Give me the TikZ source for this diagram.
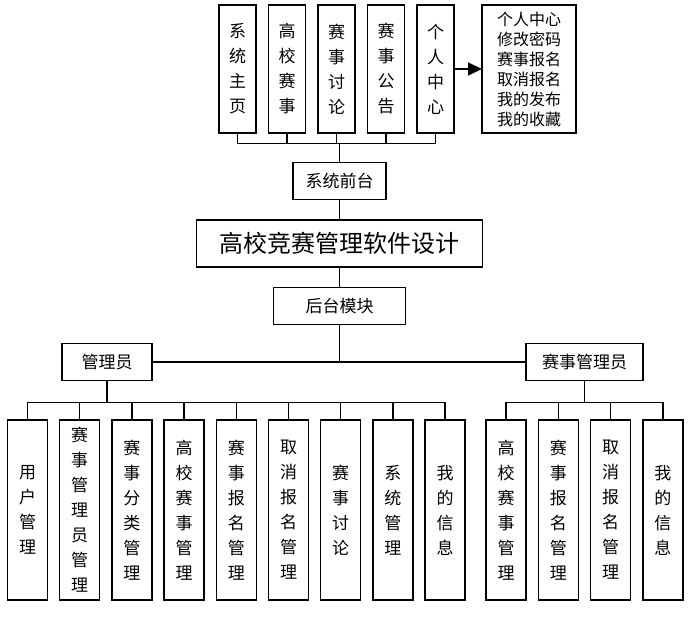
\documentclass[tikz,border=0pt]{standalone}
\usepackage{fontspec}
\setmainfont{Noto Sans CJK SC}
\usetikzlibrary{positioning, arrows.meta}

\begin{document}
\begin{tikzpicture}[
  x=1pt, y=-1pt,
  >={Triangle[length=14pt, width=13pt]},
  box/.style={draw, line width=1.5pt, inner sep=0pt, outer sep=0pt, align=center, fill=white},
  topV/.style={box, minimum width=37pt, minimum height=128pt, font=\fontsize{17}{25}\selectfont},
  listB/.style={box, minimum width=94pt, minimum height=128pt, font=\fontsize{16}{20}\selectfont},
  midB/.style={box, minimum height=37pt, font=\fontsize{17}{20}\selectfont},
  titleB/.style={box, minimum width=286pt, minimum height=47pt, font=\fontsize{24}{28}\selectfont},
  botV/.style={box, minimum width=40pt, minimum height=180pt, font=\fontsize{17}{25}\selectfont},
  link/.style={line width=1.5pt}
]
\useasboundingbox (0,0) rectangle (693,618);

\node[topV] (v1) at (237.5,69) {系\\统\\主\\页};
\node[topV, right=12.5pt of v1] (v2) {高\\校\\赛\\事};
\node[topV, right=12.5pt of v2] (v3) {赛\\事\\讨\\论};
\node[topV, right=12.5pt of v3] (v4) {赛\\事\\公\\告};
\node[topV, right=12.5pt of v4] (v5) {个\\人\\中\\心};
\node[listB, right=28pt of v5] (lst) {个人中心\\修改密码\\赛事报名\\取消报名\\我的发布\\我的收藏};

\node[midB, minimum width=93pt] (qt) at (339.5,181) {系统前台};
\node[titleB] (title) at (339.5,243.5) {高校竞赛管理软件设计};
\node[midB, minimum width=132pt] (hb) at (339.5,306) {后台模块};
\node[midB, minimum width=90pt] (adm) at (107,362) {管理员};
\node[midB, minimum width=117pt] (sadm) at (584.5,362) {赛事管理员};

\node[botV] (a1) at (27.5,510) {用\\户\\管\\理};
\node[botV, right=12.2pt of a1] (a2) {赛\\事\\管\\理\\员\\管\\理};
\node[botV, right=12.2pt of a2] (a3) {赛\\事\\分\\类\\管\\理};
\node[botV, right=12.2pt of a3] (a4) {高\\校\\赛\\事\\管\\理};
\node[botV, right=12.2pt of a4] (a5) {赛\\事\\报\\名\\管\\理};
\node[botV, right=12.2pt of a5] (a6) {取\\消\\报\\名\\管\\理};
\node[botV, right=12.2pt of a6] (a7) {赛\\事\\讨\\论};
\node[botV, right=12.2pt of a7] (a8) {系\\统\\管\\理};
\node[botV, right=12.2pt of a8] (a9) {我\\的\\信\\息};

\node[botV] (b1) at (506,510) {高\\校\\赛\\事\\管\\理};
\node[botV, right=12.3pt of b1] (b2) {赛\\事\\报\\名\\管\\理};
\node[botV, right=12.3pt of b2] (b3) {取\\消\\报\\名\\管\\理};
\node[botV, right=12.3pt of b3] (b4) {我\\的\\信\\息};

\draw[link] (qt.north) -- ++(0,-19) coordinate (tbar);
\foreach \n in {v1,v2,v3,v4,v5}
  \draw[link] (\n.south) |- (tbar);
\draw[link, ->] (v5.east) -- (lst.west);
\draw[link] (qt) -- (title);
\draw[link] (title) -- (hb);
\draw[link] (hb.south) -- (hb.south |- adm.east);
\draw[link] (adm.east) -- (sadm.west);
\draw[link] (adm.south) -- ++(0,22) coordinate (abar);
\foreach \n in {a1,a2,a3,a4,a5,a6,a7,a8,a9}
  \draw[link] (\n.north) |- (abar);
\draw[link] (sadm.south) -- ++(0,22) coordinate (bbar);
\foreach \n in {b1,b2,b3,b4}
  \draw[link] (\n.north) |- (bbar);
\end{tikzpicture}
\end{document}
